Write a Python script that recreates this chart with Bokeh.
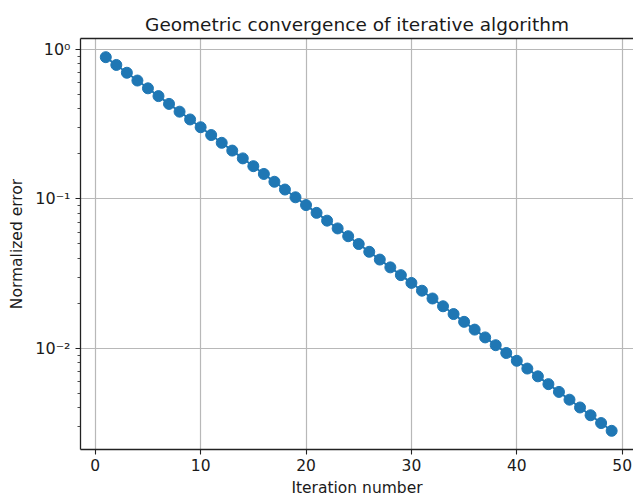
from bokeh.plotting import figure
from bokeh.models import Range1d, FixedTicker, LinearAxis
from bokeh.embed import file_html
from bokeh.resources import INLINE
import math

# ---- data ----
iterations = list(range(1, 50))
errors = [
    0.8870, 0.7868, 0.6979, 0.6190, 0.5491, 0.4870, 0.4320, 0.3832, 0.3399, 0.3015,
    0.2674, 0.2372, 0.2104, 0.1866, 0.1655, 0.1468, 0.1302, 0.1155, 0.1025, 0.09090,
    0.08063, 0.07152, 0.06344, 0.05627, 0.04991, 0.04427, 0.03927, 0.03483, 0.03090, 0.02741,
    0.02431, 0.02156, 0.01913, 0.01697, 0.01505, 0.01335, 0.01184, 0.01050, 0.009315, 0.008262,
    0.007329, 0.006501, 0.005766, 0.005115, 0.004537, 0.004024, 0.003570, 0.003166, 0.002809,
]
x_ticks = [0, 10, 20, 30, 40, 50]
y_ticks = [0.01, 0.1, 1.0]
y_tick_labels = ["10\u207b\u00b2", "10\u207b\u00b9", "10\u2070"]
y_minor_ticks = [k * 10.0 ** e for e in (-3, -2, -1) for k in range(2, 10)]

title = "Geometric convergence of iterative algorithm"
x_label = "Iteration number"
y_label = "Normalized error"

FONT = "DejaVu Sans"
BLUE = "#1f77b4"
TXT = "#1a1a1a"

# matplotlib-like 5% margins (log space for y)
lx0, lx1 = min(iterations), max(iterations)
xr = lx1 - lx0
ly0, ly1 = math.log10(min(errors)), math.log10(max(errors))
yr = ly1 - ly0

p = figure(
    width=633, height=499,
    y_axis_type="log",
    x_range=Range1d(lx0 - 0.05 * xr, lx1 + 0.0432 * xr),
    y_range=Range1d(10 ** (ly0 - 0.05 * yr), 10 ** (ly1 + 0.05 * yr)),
    output_backend="svg", toolbar_location=None,
    min_border_left=80, min_border_right=0, min_border_top=38, min_border_bottom=46,
)
p.background_fill_color = "white"
p.border_fill_color = "white"
p.outline_line_color = None

p.title.text = title
p.title.align = "center"
p.title.text_font = FONT
p.title.text_font_size = "18.5px"
p.title.text_font_style = "normal"
p.title.text_color = TXT
p.title.standoff = 8

# grids
p.xgrid.ticker = FixedTicker(ticks=x_ticks)
p.ygrid.ticker = FixedTicker(ticks=y_ticks)
for g in (p.xgrid, p.ygrid):
    g.grid_line_color = "#b8b8b8"
    g.grid_line_width = 1.2

# x axis
xa = p.xaxis[0]
xa.ticker = FixedTicker(ticks=x_ticks)
xa.axis_label = x_label
# y axis
ya = p.yaxis[0]
ya.ticker = FixedTicker(ticks=y_ticks, minor_ticks=y_minor_ticks)
ya.major_label_overrides = {t: l for t, l in zip(y_ticks, y_tick_labels)}
ya.axis_label = y_label

for ax in (xa, ya):
    ax.axis_line_color = "#222222"
    ax.axis_line_width = 1.3
    ax.major_tick_line_color = "#222222"
    ax.major_tick_line_width = 1.1
    ax.major_tick_out = 5
    ax.major_tick_in = 0
    ax.minor_tick_line_color = "#222222"
    ax.minor_tick_line_width = 0.8
    ax.minor_tick_out = 3
    ax.minor_tick_in = 0
    ax.major_label_text_font = FONT
    ax.major_label_text_font_size = "15.5px"
    ax.major_label_text_color = TXT
    ax.axis_label_text_font = FONT
    ax.axis_label_text_font_size = "15.5px"
    ax.axis_label_text_font_style = "normal"
    ax.axis_label_text_color = TXT
xa.minor_tick_out = 0
xa.major_label_standoff = 4
xa.axis_label_standoff = 5
ya.major_label_standoff = 5
ya.axis_label_standoff = 6
ya.major_label_text_font_size = "16px"

# top spine
top = LinearAxis(ticker=FixedTicker(ticks=[]), major_tick_out=0, major_tick_in=0,
                 minor_tick_out=0, minor_tick_in=0, major_label_standoff=0,
                 major_label_text_font_size="0px",
                 axis_line_color="#222222", axis_line_width=1.3)
p.add_layout(top, "above")

p.line(iterations, errors, line_color=BLUE, line_width=2)
p.scatter(iterations, errors, size=11, fill_color=BLUE, line_color=BLUE)

open("out.html", "w").write(file_html(p, INLINE))
